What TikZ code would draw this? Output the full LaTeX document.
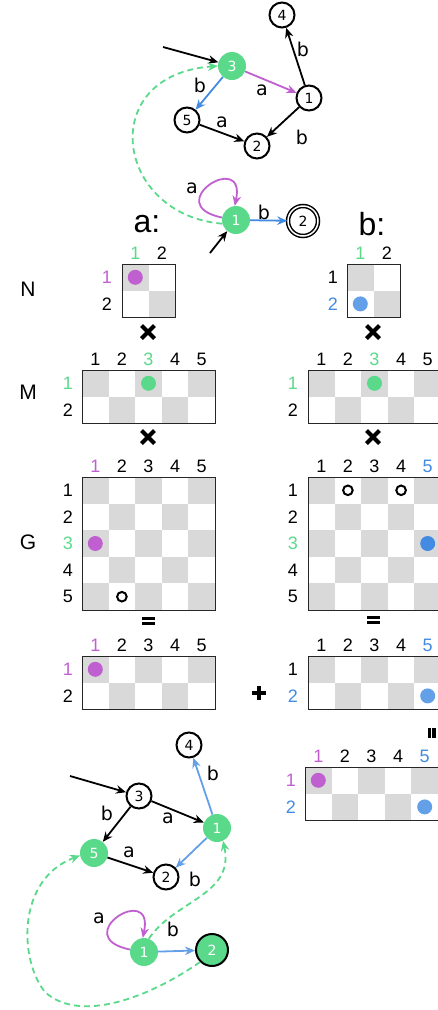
\documentclass[tikz,border=0pt]{standalone}
\usepackage{fontspec}
\setmainfont{Liberation Sans}
\newfontfamily\dvfont{DejaVu Sans}
\usetikzlibrary{arrows.meta}
\definecolor{gr}{RGB}{91,217,139}
\definecolor{pu}{RGB}{192,96,208}
\definecolor{bl}{RGB}{66,138,226}
\definecolor{blt}{RGB}{100,160,232}
\definecolor{cellg}{RGB}{217,217,217}
\newcommand\fsz[1]{\fontsize{#1}{#1}\selectfont}
\newcommand\cs{26.6}
% matrix: left, top, rows, cols
\newcommand\mymat[4]{%
  \foreach \i in {1,...,#3}{\foreach \j in {1,...,#4}{%
    \pgfmathtruncatemacro\mpar{mod(\i+\j,2)}%
    \ifnum\mpar=0 \fill[cellg] ({#1+(\j-1)*\cs},{#2+(\i-1)*\cs}) rectangle ++(\cs,\cs);\fi}}
  \draw[mborder] (#1,#2) rectangle ++({#4*\cs},{#3*\cs});}
% column headers: prefix, left, top, colours
\newcommand\colhdr[4]{%
  \foreach \c [count=\j] in {#4} \node[hdr,text=\c] (#1c\j) at ({#2+(\j-0.5)*\cs},{#3-11}) {\j};}
% row headers: prefix, x, top, colours
\newcommand\rowhdr[4]{%
  \foreach \c [count=\i] in {#4} \node[hdr,text=\c] (#1r\i) at (#2,{#3+(\i-0.5)*\cs}) {\i};}
% dot: left, top, row, col, colour
\newcommand\celldot[5]{\fill[#5] ({#1+(#4-0.5)*\cs},{#2+(#3-0.5)*\cs}) circle (7.5);}
\newcommand\cellring[4]{\draw[line width=2pt] ({#1+(#4-0.5)*\cs},{#2+(#3-0.5)*\cs}) circle (4.8);}
\begin{document}
\begin{tikzpicture}[x=1pt,y=-1pt,
  mborder/.style={line width=1pt,black!85},
  hdr/.style={font=\fsz{18}},
  big/.style={font=\fsz{21}},
  ttl/.style={font=\fsz{32}},
  wn/.style={circle,draw,line width=2pt,minimum size=25pt,inner sep=0pt,font=\dvfont\fsz{14}},
  gn/.style={circle,fill=gr,minimum size=28pt,inner sep=0pt,text=white,font=\dvfont\fsz{14}},
  arr/.style={line width=1.8pt,-{Stealth[length=10pt,width=8.5pt]}},
  dedge/.style={line width=1.8pt,gr,dash pattern=on 6pt off 4pt,-{Stealth[length=10pt,width=8.5pt]}},
  elab/.style={font=\dvfont\fsz{19}},
  sym/.style={line width=4pt}
]
\useasboundingbox (0,0) rectangle (437,1010);

% ---------------- top automaton ----------------
\node[wn] (t4) at (282,15) {4};
\node[gn] (t3) at (232,66) {3};
\node[wn] (t1) at (309,98) {1};
\node[wn] (t5) at (187,120) {5};
\node[wn] (t2) at (257,146) {2};
\node[gn] (u1) at (236,220) {1};
\node[circle,draw,double,double distance=1.5pt,line width=1.5pt,minimum size=30pt,inner sep=0pt,font=\dvfont\fsz{14}] (u2) at (303,221) {2};
\coordinate (i1) at (163,47);
\coordinate (i2) at (210,253);

\draw[arr] (i1) -- (t3);
\draw[arr,pu] (t3) -- (t1);
\draw[arr,bl] (t3) -- (t5);
\draw[arr] (t1) -- (t4);
\draw[arr] (t1) -- (t2);
\draw[arr] (t5) -- (t2);
\draw[arr,bl] (u1) -- (u2);
\draw[arr] (i2) -- (u1);
\draw[arr,pu] (u1.170) .. controls +(-63,-13) and +(12,-57) .. (u1.95);
\draw[dedge] (u1.195) .. controls (115,215) and (95,75) .. (t3.180);

\node[elab] (l1) at (303,49) {b};
\node[elab] (l2) at (262,90) {a};
\node[elab] (l3) at (200,85) {b};
\node[elab] (l4) at (222,122) {a};
\node[elab] (l5) at (302,137) {b};
\node[elab] (l6) at (192,188) {a};
\node[elab] (l7) at (264,212) {b};

% ---------------- titles ----------------
\node[ttl] (ta) at (147,224) {a:};
\node[ttl] (tb) at (372,224) {b:};
\node[big] (lN) at (28,289) {N};
\node[big] (lM) at (28,392) {M};
\node[big] (lG) at (28,542) {G};

% ---------------- column a ----------------
\mymat{122}{264}{2}{2}
\colhdr{na}{122}{264}{gr,black}
\rowhdr{na}{107}{264}{pu,black}
\celldot{122}{264}{1}{1}{pu}

\mymat{82}{370}{2}{5}
\colhdr{ma}{82}{370}{black,black,gr,black,black}
\rowhdr{ma}{68}{370}{gr,black}
\celldot{82}{370}{1}{3}{gr}

\mymat{82}{477}{5}{5}
\colhdr{ga}{82}{477}{pu,black,black,black,black}
\rowhdr{ga}{68}{477}{black,black,gr,black,black}
\celldot{82}{477}{3}{1}{pu}
\cellring{82}{477}{5}{2}

\mymat{82}{656}{2}{5}
\colhdr{ra}{82}{656}{pu,black,black,black,black}
\rowhdr{ra}{68}{656}{pu,black}
\celldot{82}{656}{1}{1}{pu}

% ---------------- column b ----------------
\mymat{347}{264}{2}{2}
\colhdr{nb}{347}{264}{gr,black}
\rowhdr{nb}{333}{264}{black,bl}
\celldot{347}{264}{2}{1}{blt}

\mymat{308}{370}{2}{5}
\colhdr{mb}{308}{370}{black,black,gr,black,black}
\rowhdr{mb}{293}{370}{gr,black}
\celldot{308}{370}{1}{3}{gr}

\mymat{308}{477}{5}{5}
\colhdr{gb}{308}{477}{black,black,black,black,bl}
\rowhdr{gb}{293}{477}{black,black,gr,black,black}
\cellring{308}{477}{1}{2}
\cellring{308}{477}{1}{4}
\celldot{308}{477}{3}{5}{bl}

\mymat{308}{656}{2}{5}
\colhdr{rb}{308}{656}{black,black,black,black,bl}
\rowhdr{rb}{293}{656}{black,bl}
\celldot{308}{656}{2}{5}{blt}

% final matrix
\mymat{305}{767}{2}{5}
\colhdr{fm}{305}{767}{pu,black,black,black,bl}
\rowhdr{fm}{291}{767}{pu,bl}
\celldot{305}{767}{1}{1}{pu}
\celldot{305}{767}{2}{5}{blt}

% ---------------- operators ----------------
\foreach \p in {(148,332),(148,437),(373,332),(373,437)}{
  \draw[sym] \p ++(-6.5,-6.5) -- ++(13,13);
  \draw[sym] \p ++(6.5,-6.5) -- ++(-13,13);}
\foreach \p in {(148,621),(373,620)}{
  \fill \p ++(-6.5,-4) rectangle ++(13,3);
  \fill \p ++(-6.5,1) rectangle ++(13,3);}
\fill (259,693) ++(-7,-1.75) rectangle ++(14,3.5);
\fill (259,693) ++(-1.75,-7) rectangle ++(3.5,14);
\fill (427.5,728) rectangle ++(3.2,10);
\fill (432.3,728) rectangle ++(3.2,10);

% ---------------- bottom automaton ----------------
\node[wn] (b4) at (189,745) {4};
\node[wn] (b3) at (139,796) {3};
\node[gn] (b1) at (217,828) {1};
\node[gn] (b5) at (94,853) {5};
\node[wn] (b2) at (166,877) {2};
\node[gn] (c1) at (144,952) {1};
\node[gn,draw=black,line width=2pt,minimum size=32pt] (c2) at (212,950) {2};
\coordinate (i3) at (70,776);

\draw[arr] (i3) -- (b3);
\draw[arr] (b3) -- (b1);
\draw[arr] (b3) -- (b5);
\draw[arr] (b5) -- (b2);
\draw[arr,blt] (b1) -- (b4);
\draw[arr,blt] (b1) -- (b2);
\draw[arr,blt] (c1) -- (c2);
\draw[arr,pu] (c1.170) .. controls +(-63,-13) and +(12,-57) .. (c1.95);
\draw[dedge] (c1.70) .. controls (175,900) and (235,895) .. (b1.-65);
\draw[dedge] (c2.225) .. controls (150,997) and (80,1024) .. (45,992)
  .. controls (20,962) and (15,880) .. (b5.190);

\node[elab] (m1) at (213,773) {b};
\node[elab] (m2) at (107,813) {b};
\node[elab] (m3) at (168,818) {a};
\node[elab] (m4) at (129,852) {a};
\node[elab] (m5) at (195,879) {b};
\node[elab] (m6) at (99,918) {a};
\node[elab] (m7) at (173,929) {b};
\end{tikzpicture}
\end{document}
